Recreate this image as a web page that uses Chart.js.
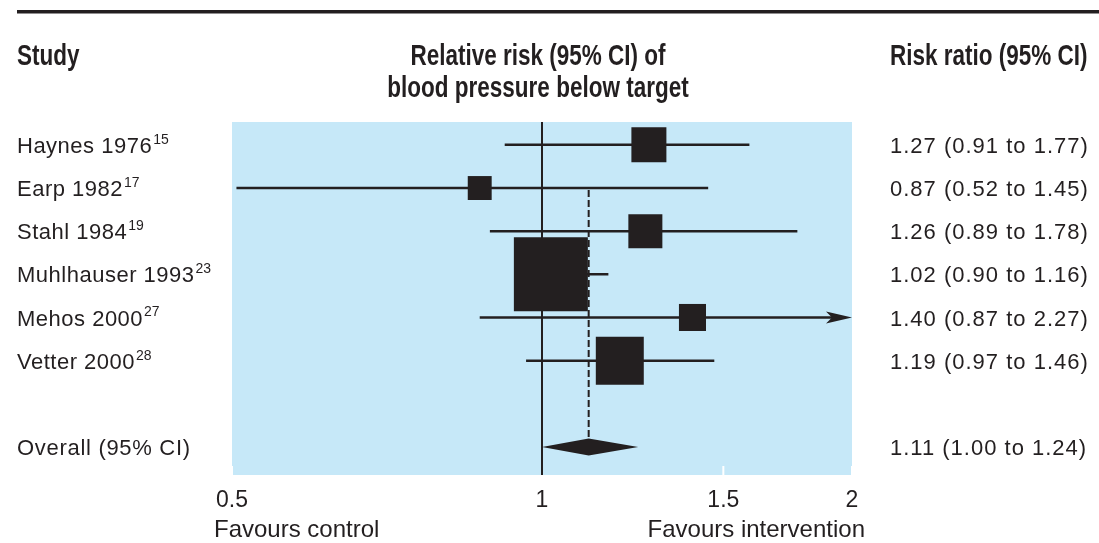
<!DOCTYPE html>
<html>
<head>
<meta charset="utf-8">
<script src="https://cdn.jsdelivr.net/npm/chart.js@4.4.1/dist/chart.umd.min.js"></script>
<style>
  html, body { margin: 0; padding: 0; background: #fff; }
</style>
</head>
<body>
<canvas id="forest" width="1099" height="543"></canvas>
<script>
const studies = ['Haynes 1976', 'Earp 1982', 'Stahl 1984', 'Muhlhauser 1993', 'Mehos 2000', 'Vetter 2000'];
const refs = ['15', '17', '19', '23', '27', '28'];
const estimates = [1.27, 0.87, 1.26, 1.02, 1.40, 1.19];
const lower = [0.92, 0.505, 0.89, 0.94, 0.87, 0.965];
const upper = [1.59, 1.45, 1.77, 1.16, 2.27, 1.47];
const weights = [10.7, 5.0, 10.1, 47.8, 6.4, 20.1];
const ratioLabels = ['1.27 (0.91 to 1.77)', '0.87 (0.52 to 1.45)', '1.26 (0.89 to 1.78)',
  '1.02 (0.90 to 1.16)', '1.40 (0.87 to 2.27)', '1.19 (0.97 to 1.46)'];
const overall = [1.11, 1.00, 1.24];   // estimate, lower, upper
const overallLabel = '1.11 (1.00 to 1.24)';
const xTicks = [0.5, 1, 1.5, 2];

const INK = '#231f20';
const PANEL = '#c6e8f8';
const FONT = '"Liberation Sans", Arial, sans-serif';
const overallRow = 7;

function seg(ctx, x1, y1, x2, y2) {
  ctx.beginPath();
  ctx.moveTo(x1, y1);
  ctx.lineTo(x2, y2);
  ctx.stroke();
}

// bold header text squeezed sideways to look like a condensed face
function headText(ctx, text, x, y, align) {
  ctx.save();
  ctx.translate(x, y);
  ctx.scale(0.75, 1);
  ctx.font = 'bold 30px ' + FONT;
  ctx.textAlign = align;
  ctx.fillText(text, 0, 0);
  ctx.restore();
}

const forestPlugin = {
  id: 'forest',
  beforeDraw(chart) {
    const { ctx, chartArea: a, scales: { x } } = chart;
    ctx.save();
    // rule across the top
    ctx.fillStyle = INK;
    ctx.fillRect(17, 10, chart.width - 17, 3.5);
    // blue panel
    ctx.fillStyle = PANEL;
    ctx.fillRect(a.left, a.top, a.width, a.height);
    // little white ticks inside the bottom edge
    ctx.strokeStyle = '#fff';
    ctx.lineWidth = 2;
    xTicks.forEach(v => {
      const px = x.getPixelForValue(v);
      seg(ctx, px, a.bottom - 9, px, a.bottom);
    });
    ctx.restore();
  },
  beforeDatasetsDraw(chart) {
    const { ctx, chartArea: a, scales: { x, y } } = chart;
    ctx.save();
    ctx.strokeStyle = INK;
    ctx.fillStyle = INK;

    // line of no effect
    ctx.lineWidth = 2;
    const x1 = x.getPixelForValue(1);
    seg(ctx, x1, a.top, x1, a.bottom);

    // confidence intervals
    ctx.lineWidth = 2.5;
    studies.forEach((s, i) => {
      const py = y.getPixelForValue(i);
      const lo = x.getPixelForValue(Math.max(lower[i], 0.5));
      const clipped = upper[i] > 2;
      const hi = x.getPixelForValue(Math.min(upper[i], 2));
      seg(ctx, lo, py, clipped ? hi - 20 : hi, py);
      if (clipped) {
        ctx.beginPath();
        ctx.moveTo(hi, py);
        ctx.lineTo(hi - 26, py - 6);
        ctx.lineTo(hi - 20, py);
        ctx.lineTo(hi - 26, py + 6);
        ctx.closePath();
        ctx.fill();
      }
    });

    // pooled estimate: dashed line and diamond
    const ox = x.getPixelForValue(overall[0]);
    const oy = y.getPixelForValue(overallRow);
    ctx.lineWidth = 2;
    ctx.setLineDash([7, 3]);
    seg(ctx, ox, y.getPixelForValue(1) + 2, ox, oy - 8);
    ctx.setLineDash([]);
    ctx.beginPath();
    ctx.moveTo(x.getPixelForValue(overall[1]), oy);
    ctx.lineTo(ox, oy - 8.5);
    ctx.lineTo(x.getPixelForValue(overall[2]), oy);
    ctx.lineTo(ox, oy + 8.5);
    ctx.closePath();
    ctx.fill();
    ctx.restore();
  },
  afterDraw(chart) {
    const { ctx, scales: { y } } = chart;
    ctx.save();
    ctx.fillStyle = INK;

    // headers
    ctx.textBaseline = 'alphabetic';
    headText(ctx, 'Study', 17, 65, 'left');
    headText(ctx, 'Risk ratio (95% CI)', 890, 65, 'left');
    headText(ctx, 'Relative risk (95% CI) of', 538, 65, 'center');
    headText(ctx, 'blood pressure below target', 538, 97, 'center');

    // study names with reference superscripts, ratios on the right
    ctx.textBaseline = 'middle';
    ctx.textAlign = 'left';
    studies.forEach((s, i) => {
      const py = y.getPixelForValue(i) + 2;
      ctx.letterSpacing = '0.5px';
      ctx.font = '22px ' + FONT;
      ctx.fillText(s, 17, py);
      const w = ctx.measureText(s).width;
      ctx.letterSpacing = '0px';
      ctx.font = '14px ' + FONT;
      ctx.fillText(refs[i], 17 + w + 1, py - 7);
      ctx.font = '22px ' + FONT;
      ctx.letterSpacing = '1px';
      ctx.fillText(ratioLabels[i], 890, py);
    });
    const oy = y.getPixelForValue(overallRow) + 2;
    ctx.letterSpacing = '0.7px';
    ctx.fillText('Overall (95% CI)', 17, oy);
    ctx.letterSpacing = '1px';
    ctx.fillText(overallLabel, 890, oy);

    // direction labels
    ctx.letterSpacing = '0px';
    ctx.font = '24px ' + FONT;
    ctx.textBaseline = 'alphabetic';
    ctx.fillText('Favours control', 214, 537);
    ctx.textAlign = 'right';
    ctx.fillText('Favours intervention', 865, 537);
    ctx.restore();
  }
};

new Chart(document.getElementById('forest'), {
  type: 'scatter',
  data: {
    datasets: [{
      data: estimates.map((v, i) => ({ x: v, y: i })),
      pointStyle: 'rect',
      pointRadius: weights.map(w => Math.sqrt(w) * 10.7 / Math.SQRT2),
      pointHoverRadius: weights.map(w => Math.sqrt(w) * 10.7 / Math.SQRT2),
      backgroundColor: INK,
      borderWidth: 0,
    }]
  },
  options: {
    responsive: false,
    animation: false,
    layout: { padding: { left: 232, right: 247, top: 122, bottom: 0 } },
    plugins: { legend: { display: false }, tooltip: { enabled: false } },
    scales: {
      x: {
        type: 'logarithmic',
        min: 0.5,
        max: 2,
        afterBuildTicks: axis => { axis.ticks = xTicks.map(v => ({ value: v })); },
        afterFit: axis => { axis.height = 68; },
        grid: { display: false },
        border: { display: false },
        ticks: {
          autoSkip: false,
          maxRotation: 0,
          padding: 4,
          color: INK,
          font: { family: FONT, size: 23 },
          callback: v => String(v),
        }
      },
      y: {
        type: 'linear',
        min: -0.53,
        max: 7.65,
        reverse: true,
        display: false,
      }
    }
  },
  plugins: [forestPlugin]
});
</script>
</body>
</html>
